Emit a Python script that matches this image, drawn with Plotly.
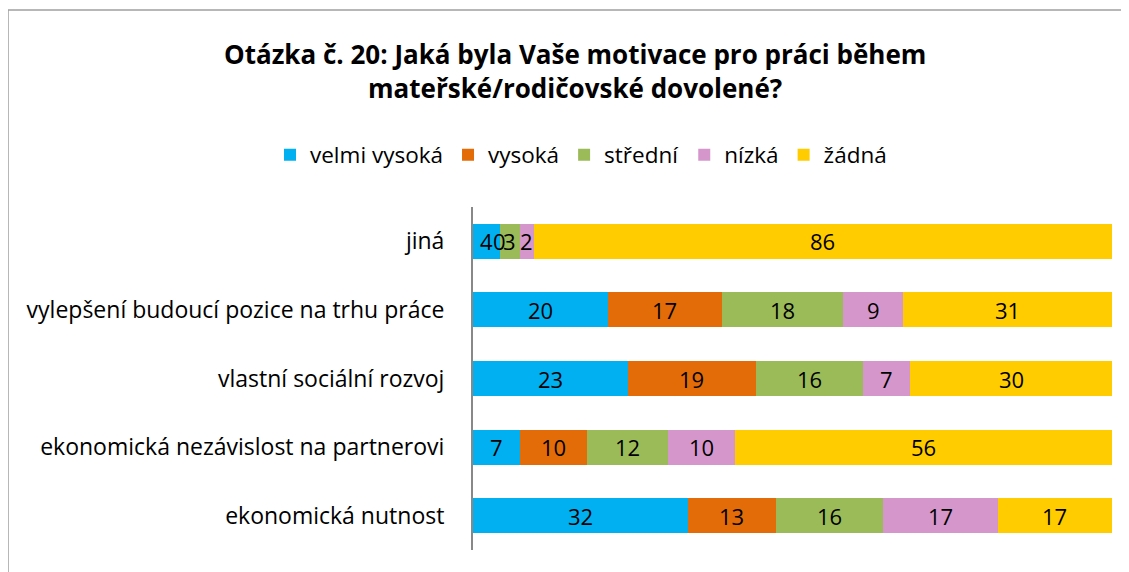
import plotly.graph_objects as go

categories = ["ekonomická nutnost", "ekonomická nezávislost na partnerovi",
              "vlastní sociální rozvoj", "vylepšení budoucí pozice na trhu práce", "jiná"]
series_names = ["velmi vysoká", "vysoká", "střední", "nízká", "žádná"]
velmi_vysoka = [32, 7, 23, 20, 4]
vysoka = [13, 10, 19, 17, 0]
stredni = [16, 12, 16, 18, 3]
nizka = [17, 10, 7, 9, 2]
zadna = [17, 56, 30, 31, 86]
colors = ["#00B0F0", "#E36C09", "#9BBB59", "#D597CB", "#FFCC00"]

series = [velmi_vysoka, vysoka, stredni, nizka, zadna]

W, H = 1129, 572
L, R, T, B = 465, 25, 199, 30
pw = W - L - R
ph = H - T - B


def px(fx):
    return (fx - L) / pw


def py(fy):
    return 1 - (fy - T) / ph


fig = go.Figure()
for name, vals, col in zip(series_names, series, colors):
    fig.add_trace(go.Bar(y=categories, x=vals, name=name, orientation="h",
                         marker=dict(color=col, line=dict(width=0)),
                         textposition="none", hoverinfo="x+name"))

annotations = []
cum = [0] * len(categories)
for vals in series:
    for i, v in enumerate(vals):
        annotations.append(dict(x=cum[i] + v / 2, y=categories[i], xref="x", yref="y",
                                text=str(v), showarrow=False,
                                font=dict(size=22, color="black", family="Open Sans")))
        cum[i] += v

annotations.append(dict(text="<b>Otázka č. 20: Jaká byla Vaše motivace pro práci během</b><br><b>mateřské/rodičovské dovolené?</b>",
                        xref="paper", yref="paper", x=px(567), y=py(63),
                        xanchor="center", yanchor="middle", showarrow=False, align="center",
                        font=dict(size=26, color="black", family="Open Sans")))

fig.add_shape(type="rect", xref="paper", yref="paper",
              x0=px(0), x1=px(1140), y0=py(600), y1=py(2),
              line=dict(color="#A0A0A0", width=1.5), fillcolor="rgba(0,0,0,0)", layer="below")

fig.update_layout(
    width=W, height=H,
    margin=dict(l=L, r=R, t=T, b=B),
    barmode="stack", bargap=0.49,
    plot_bgcolor="white", paper_bgcolor="white",
    font=dict(family="Open Sans", size=22, color="black"),
    xaxis=dict(range=[0, 95], showticklabels=False, showgrid=False, zeroline=False,
               showline=False, fixedrange=True),
    yaxis=dict(categoryorder="array", categoryarray=categories, showgrid=False,
               showline=True, linecolor="#888888", linewidth=2, ticks="",
               ticklabelstandoff=22, tickfont=dict(size=23, family="Open Sans")),
    legend=dict(orientation="h", x=px(573), xanchor="center", y=py(147),
                yanchor="middle", font=dict(size=22.5, family="Open Sans"),
                itemwidth=30, traceorder="normal"),
    annotations=annotations,
    showlegend=True,
)

fig.write_html("out.html")
